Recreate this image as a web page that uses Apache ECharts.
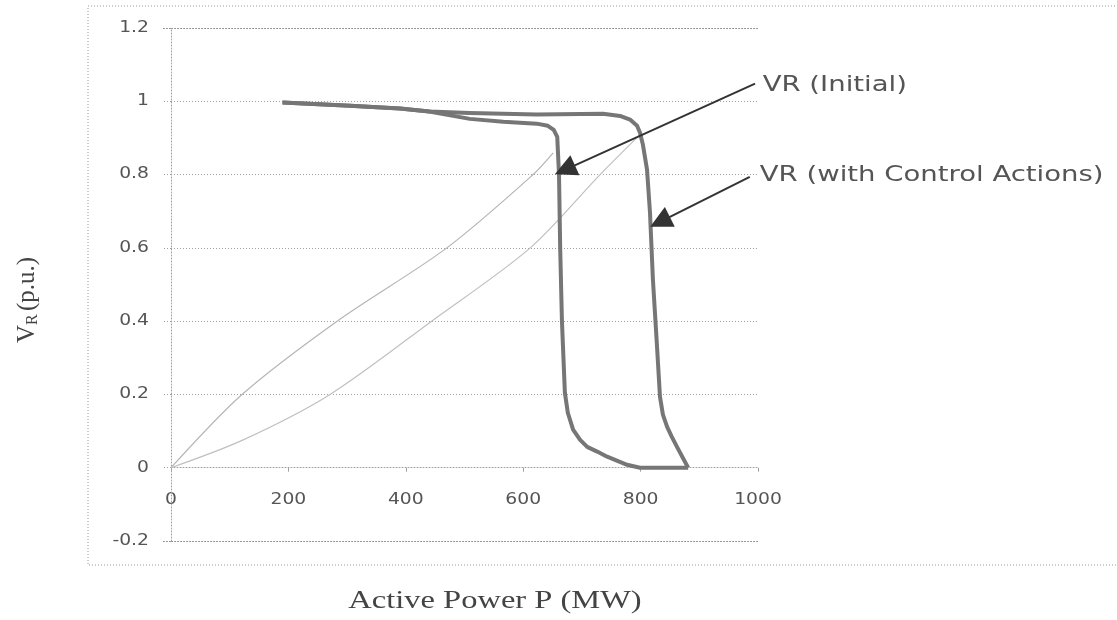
<!DOCTYPE html>
<html><head><meta charset="utf-8">
<script src="https://cdn.jsdelivr.net/npm/echarts@6/dist/echarts.min.js"></script>
<style>html,body{margin:0;padding:0;background:#fff}#c{width:1117px;height:620px}</style>
</head><body><div id="c"></div>
<script>
// Tick values
const xTicks = [0, 200, 400, 600, 800, 1000];
const yTicks = [-0.2, 0, 0.2, 0.4, 0.6, 0.8, 1, 1.2];

// VR (Initial) curve
const initialP = [190, 305, 390, 440, 509, 566, 623, 642, 652, 658, 659, 661, 663, 666, 671, 676, 685, 697, 709, 726, 743, 777, 799, 881];
const initialV = [0.997, 0.988, 0.980, 0.972, 0.952, 0.944, 0.939, 0.933, 0.922, 0.903, 0.868, 0.80, 0.60, 0.40, 0.205, 0.150, 0.104, 0.076, 0.057, 0.044, 0.030, 0.008, 0.0, 0.0];

// VR (with Control Actions) curve
const controlP = [190, 305, 390, 440, 509, 623, 736, 765, 782, 794, 799, 804, 811, 816, 821, 828, 833, 838, 845, 853, 862, 881];
const controlV = [0.997, 0.988, 0.980, 0.972, 0.968, 0.964, 0.966, 0.960, 0.950, 0.933, 0.914, 0.881, 0.813, 0.696, 0.513, 0.330, 0.194, 0.145, 0.112, 0.085, 0.057, 0.0];

// Thin load lines
const loadAP = [0, 121, 283, 470, 617, 651];
const loadAV = [0, 0.20, 0.40, 0.60, 0.80, 0.859];
const loadBP = [0, 123, 271, 444, 612, 731, 799];
const loadBV = [0, 0.076, 0.20, 0.40, 0.60, 0.80, 0.909];

// Annotation arrows: [from P, from V, to P, to V]
const arrowInitial = [995, 1.048, 671, 0.813];
const arrowControl = [986, 0.794, 833, 0.671];
// Annotation texts: [P, V, text]
const labelInitial = [1008, 1.045, 'VR (Initial)'];
const labelControl = [1003, 0.797, 'VR (with Control Actions)'];

const xTitle = 'Active Power P (MW)';

const zip = (a, b) => a.map((v, i) => [v, b[i]]);

const chart = echarts.init(document.getElementById('c'), null, {renderer: 'canvas'});
const gridCol = '#a0a0a0';
const textCol = '#555';
const stretch = 1.25;
const hiddenLabel = {show: true, color: 'rgba(0,0,0,0)', fontSize: 10};
const option = {
  animation: false,
  backgroundColor: '#fff',
  grid: {left: 171, right: 359, top: 28, bottom: 79, containLabel: false},
  xAxis: {
    type: 'value',
    min: xTicks[0], max: xTicks[xTicks.length - 1], interval: xTicks[1] - xTicks[0],
    axisLine: {show: true, onZero: true, lineStyle: {color: gridCol, type: [1, 2], width: 1}},
    axisTick: {show: true, length: 4, lineStyle: {color: gridCol}},
    axisLabel: hiddenLabel,
    splitLine: {show: false}
  },
  yAxis: {
    type: 'value',
    min: yTicks[0], max: yTicks[yTicks.length - 1], interval: 0.2,
    axisLine: {show: true, onZero: false, lineStyle: {color: gridCol, type: [1, 2], width: 1}},
    axisTick: {show: true, length: 8, lineStyle: {color: gridCol, type: [1, 2]}},
    axisLabel: hiddenLabel,
    splitLine: {show: true, showMinLine: true, showMaxLine: true, lineStyle: {color: gridCol, type: [1, 2], width: 1}}
  },
  series: [
    {type: 'line', name: 'loadA', data: zip(loadAP, loadAV), showSymbol: false, smooth: 0.3,
      lineStyle: {color: '#b5b5b5', width: 1.2}, z: 2},
    {type: 'line', name: 'loadB', data: zip(loadBP, loadBV), showSymbol: false, smooth: 0.3,
      lineStyle: {color: '#c0c0c0', width: 1.2}, z: 2},
    {type: 'line', name: 'VR (with Control Actions)', data: zip(controlP, controlV), showSymbol: false, smooth: false,
      lineStyle: {color: '#767676', width: 4, join: 'round'}, z: 3},
    {type: 'line', name: 'VR (Initial)', data: zip(initialP, initialV), showSymbol: false, smooth: false,
      lineStyle: {color: '#767676', width: 4, join: 'round'}, z: 3},
    {type: 'lines', coordinateSystem: 'cartesian2d', clip: false, z: 5,
      symbol: ['none', 'triangle'], symbolSize: [8, 22],
      lineStyle: {color: '#333', width: 2, opacity: 1},
      data: [
        {coords: [[arrowInitial[0], arrowInitial[1]], [arrowInitial[2], arrowInitial[3]]]},
        {coords: [[arrowControl[0], arrowControl[1]], [arrowControl[2], arrowControl[3]]]}
      ]}
  ]
};
chart.setOption(option);

const px = (p, v) => chart.convertToPixel({gridIndex: 0}, [p, v]);
const tickFont = '15px "DejaVu Sans"';
const g = [
  {type: 'rect', shape: {x: 88, y: 6, width: 1100, height: 559}, style: {fill: 'none', stroke: '#9a9a9a', lineWidth: 1, lineDash: [1, 2]}, silent: true, z: -1},
  {type: 'text', x: 495, y: 601, scaleX: stretch, style: {text: xTitle, font: '26px "Liberation Serif"', fill: '#444', textAlign: 'center', textVerticalAlign: 'middle'}},
  {type: 'text', x: 27, y: 300, rotation: Math.PI / 2,
    style: {text: '{v|V}{s|R} {v|(p.u.)}', fill: '#444', textAlign: 'center', textVerticalAlign: 'middle',
      rich: {v: {font: '25px "Liberation Serif"', fill: '#444'}, s: {font: '16px "Liberation Serif"', fill: '#444', padding: [12, 0, 0, 0]}}}}
];
// edge gridlines at the axis min and max, drawn as thin dotted rects
[yTicks[0], yTicks[yTicks.length - 1]].forEach(t => {
  const a = px(xTicks[0], t), b = px(xTicks[xTicks.length - 1], t);
  const y = Math.round(a[1]);
  g.push({type: 'polyline', silent: true, z: 10,
    shape: {points: [[a[0] - 8, y + 0.5], [b[0], y + 0.5]]},
    style: {stroke: '#909090', fill: 'none', lineWidth: 1, lineDash: [1, 2]}});
});
xTicks.forEach(t => {
  const p = px(t, 0);
  g.push({type: 'text', x: p[0], y: p[1] + 32, scaleX: stretch,
    style: {text: String(t), font: tickFont, fill: textCol, textAlign: 'center', textVerticalAlign: 'middle'}});
});
yTicks.forEach(t => {
  const p = px(0, t);
  g.push({type: 'text', x: p[0] - 22, y: p[1], scaleX: stretch,
    style: {text: String(Math.round(t * 10) / 10), font: tickFont, fill: textCol, textAlign: 'right', textVerticalAlign: 'middle'}});
});
[labelInitial, labelControl].forEach(l => {
  const p = px(l[0], l[1]);
  g.push({type: 'text', x: p[0], y: p[1], scaleX: stretch,
    style: {text: l[2], font: '22px "DejaVu Sans"', fill: textCol, textAlign: 'left', textVerticalAlign: 'middle'}});
});
chart.setOption({graphic: g});
</script></body></html>
